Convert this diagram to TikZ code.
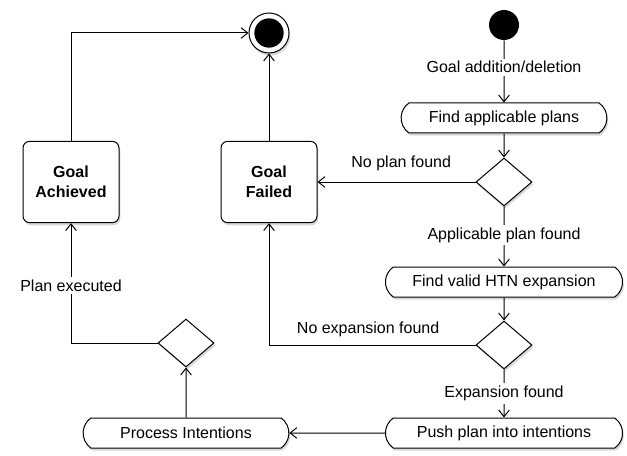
\documentclass[tikz,border=0pt]{standalone}
\usepackage{fontspec}
\setmainfont{Liberation Sans}
\usetikzlibrary{positioning,arrows.meta,shapes.geometric,shapes.misc,shadows}
\tikzset{>={Straight Barb[length=5pt,width=8pt]}}

\begin{document}
\begin{tikzpicture}[x=0.75pt, y=-0.75pt, line width=0.75pt,
    font=\fontsize{12}{15}\selectfont,
    dropshade/.style={drop shadow={opacity=0.3, shadow xshift=1pt, shadow yshift=-2pt}},
    box/.style={draw, rounded corners=5pt, fill=white, minimum width=72pt, minimum height=61pt, align=center, font=\fontsize{12}{15}\selectfont\bfseries, dropshade},
    act/.style={draw, rounded rectangle, rounded rectangle arc length=110, fill=white, minimum height=22.5pt, dropshade},
    choice/.style={draw, diamond, fill=white, minimum width=42pt, minimum height=36pt, inner sep=0pt, dropshade},
    init/.style={circle, fill=black, minimum size=22.5pt, inner sep=0pt},
    final/.style={circle, draw, fill=white, minimum size=30pt, inner sep=0pt, dropshade,
      path picture={\fill[black] (path picture bounding box.center) circle (11pt);}},
    lbl/.style={fill=white, inner sep=2pt}]
        \path[use as bounding box, fill=white] (0,0) rectangle (627,456);

        \node[init] (start) at (504,25) {};  %initial node
        \node[final] (end) at (269,33) {};   %final node
        \node[box] (achieved) at (71,182) {Goal\\Achieved};
        \node[box] (failed) at (269,182) {Goal\\Failed};
        \node[act, minimum width=161pt] (findplans) at (504,118) {Find applicable plans};
        \node[choice] (plancheck) at (504,182) {};
        \node[act, minimum width=184.5pt] (findhtn) at (504,282) {Find valid HTN expansion};
        \node[choice] (htncheck) at (504,345) {};
        \node[act, minimum width=184.5pt] (push) at (504,433) {Push plan into intentions};
        \node[act, minimum width=161pt] (process) at (186,433) {Process Intentions};
        \node[choice] (execcheck) at (186,343) {};

        \path[->]
        (start) edge node[lbl, pos=0.43] {Goal addition/deletion} (findplans)
        (findplans) edge (plancheck)
        (plancheck) edge node[lbl, above, pos=0.47, yshift=6pt] {No plan found} (failed)
        (plancheck) edge node[lbl, pos=0.48] {Applicable plan found} (findhtn)
        (findhtn) edge (htncheck)
        (htncheck) edge node[lbl] {Expansion found} (push)
        (push) edge (process)
        (process) edge (execcheck)
        (failed) edge (end);

        \draw[->] (htncheck.west) -| node[lbl, above, pos=0.26, yshift=4pt] {No expansion found} (failed.south);
        \draw[->] (execcheck.west) -| node[lbl, pos=0.74] {Plan executed} (achieved.south);
        \draw[->] (achieved.north) |- (end.west);
      \end{tikzpicture}
\end{document}
